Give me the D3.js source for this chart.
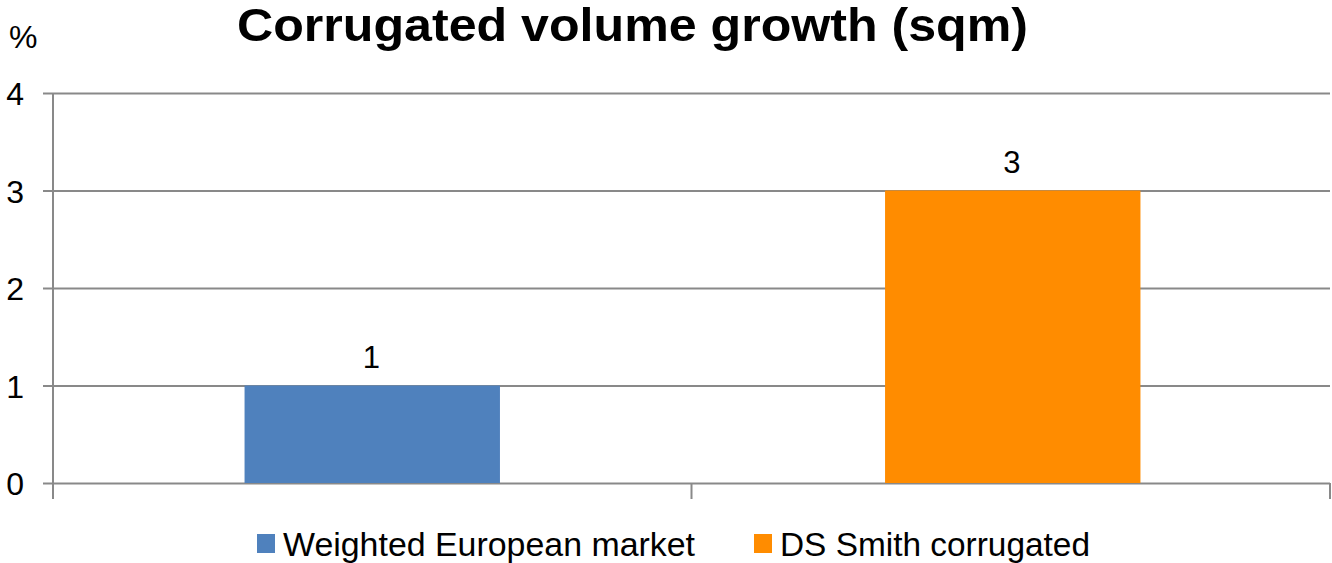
<!DOCTYPE html>
<html>
<head>
<meta charset="utf-8">
<script src="https://cdn.jsdelivr.net/npm/d3@7"></script>
<style>
  html, body { margin: 0; padding: 0; background: #fff; }
  svg { display: block; font-family: "Liberation Sans", Arial, sans-serif; }
</style>
</head>
<body>
<svg id="chart" width="1332" height="563"></svg>
<script>
const title = "Corrugated volume growth (sqm)";
const unitLabel = "%";
const categories = ["Weighted European market", "DS Smith corrugated"];
const values = [1, 3];
const yTicks = [0, 1, 2, 3, 4];
const colors = ["#4F81BD", "#FF8C00"];

(function () {
const svg = d3.select("#chart");
const mLeft = 53, mRight = 1330, mTop = 93, mBottom = 483;

const x = d3.scaleBand().domain(categories).range([mLeft, mRight]).padding(0);
const y = d3.scaleLinear().domain([0, 4]).range([mBottom, mTop]);
const gridColor = "#898989";

// Gridlines with left tick stubs
const yAxis = d3.axisLeft(y).tickValues(yTicks).tickSize(-(mRight - mLeft)).tickSizeOuter(0).tickFormat(d3.format("d"));
const gy = svg.append("g").attr("transform", `translate(${mLeft},0)`).call(yAxis);
gy.select(".domain").remove();
gy.selectAll(".tick line").attr("stroke", gridColor).attr("stroke-width", 2).attr("x1", -10);
gy.selectAll(".tick text").attr("x", -29).attr("dy", null).attr("y", 11.5)
  .attr("font-size", 32).attr("fill", "#000").attr("text-anchor", "end")
  .attr("font-family", "'Liberation Sans', Arial, sans-serif");

// Vertical axis line
svg.append("line").attr("x1", mLeft).attr("x2", mLeft).attr("y1", mTop).attr("y2", mBottom)
  .attr("stroke", gridColor).attr("stroke-width", 2);

// Category axis ticks (boundaries)
const boundaries = categories.map(c => x(c)).concat([x(categories[categories.length - 1]) + x.bandwidth()]);
svg.append("g").selectAll("line").data(boundaries).join("line")
  .attr("x1", d => d).attr("x2", d => d).attr("y1", mBottom).attr("y2", mBottom + 16)
  .attr("stroke", gridColor).attr("stroke-width", 2);

// Bars
const barW = x.bandwidth() * 0.4;
svg.append("g").selectAll("rect").data(values).join("rect")
  .attr("x", (d, i) => x(categories[i]) + (x.bandwidth() - barW) / 2 + i * 2)
  .attr("width", barW)
  .attr("y", d => y(d))
  .attr("height", d => y(0) - y(d))
  .attr("fill", (d, i) => colors[i]);

// Value labels
svg.append("g").selectAll("text").data(values).join("text")
  .attr("x", (d, i) => x(categories[i]) + x.bandwidth() / 2 - 1 + i * 2)
  .attr("y", d => y(d) - 18)
  .attr("text-anchor", "middle").attr("font-size", 31).attr("fill", "#000")
  .text(d => d);

// Title
svg.append("text").attr("x", 237).attr("y", 41).attr("font-size", 46).attr("font-weight", "bold")
  .attr("textLength", 791).attr("lengthAdjust", "spacingAndGlyphs").attr("fill", "#000").text(title);

// Unit label
svg.append("text").attr("x", 9).attr("y", 48).attr("font-size", 32).attr("fill", "#000").text(unitLabel);

// Legend
const legendItems = [
  { mx: 257, tx: 283, len: 412 },
  { mx: 754, tx: 780, len: 310 }
];
const lg = svg.append("g");
categories.forEach((c, i) => {
  lg.append("rect").attr("x", legendItems[i].mx).attr("y", 534).attr("width", 18).attr("height", 19).attr("fill", colors[i]);
  lg.append("text").attr("x", legendItems[i].tx).attr("y", 556).attr("font-size", 34).attr("fill", "#000")
    .attr("textLength", legendItems[i].len).attr("lengthAdjust", "spacingAndGlyphs").text(c);
});
})();
</script>
</body>
</html>
